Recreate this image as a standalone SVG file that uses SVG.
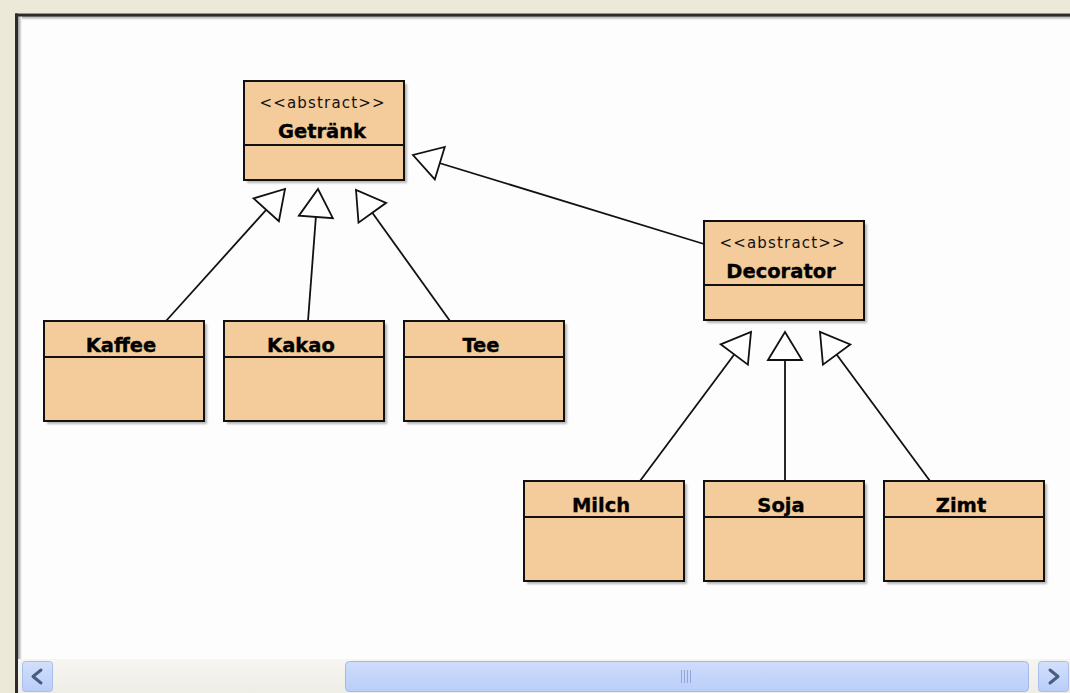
<svg xmlns="http://www.w3.org/2000/svg" width="1070" height="693" viewBox="0 0 1070 693">
  <defs>
    <style>
      .box { fill: #F4CB9A; stroke: #111; stroke-width: 2; }
      .sep { stroke: #111; stroke-width: 1.8; }
      .shadow { fill: #7a7a7a; opacity: 0.55; filter: url(#soft); }
      .stereo { font-family: "DejaVu Sans", sans-serif; font-size: 15px; fill: #111; text-anchor: middle; }
      .name { font-family: "DejaVu Sans", sans-serif; font-weight: bold; font-size: 19.5px; fill: #000; stroke: #000; stroke-width: 0.35; text-anchor: middle; }
      .edge { stroke: #111; stroke-width: 1.8; fill: none; marker-end: url(#gen); }
      .btn { fill: url(#btnGrad); stroke: #A9BDEB; stroke-width: 1; }
      .chev { fill: none; stroke: #4A5C80; stroke-width: 3; stroke-linecap: round; stroke-linejoin: round; }
    </style>
    <filter id="soft" x="-10%" y="-10%" width="130%" height="130%">
      <feGaussianBlur stdDeviation="1.3"/>
    </filter>
    <!-- hollow generalization triangle, tip at the end of the path -->
    <marker id="gen" markerUnits="userSpaceOnUse" viewBox="-2 -2 32 38" markerWidth="32" markerHeight="38" refX="28" refY="17" orient="auto" overflow="visible">
      <polygon points="0,0 28,17 0,34" fill="#fff" stroke="#111" stroke-width="1.8" stroke-linejoin="miter"/>
    </marker>
    <linearGradient id="btnGrad" x1="0" y1="0" x2="0" y2="1">
      <stop offset="0" stop-color="#D3E0FD"/>
      <stop offset="1" stop-color="#B9CDF8"/>
    </linearGradient>
    <linearGradient id="thumbGrad" x1="0" y1="0" x2="0" y2="1">
      <stop offset="0" stop-color="#CFDCFC"/>
      <stop offset="1" stop-color="#BACEF8"/>
    </linearGradient>
    <linearGradient id="trackGrad" x1="0" y1="0" x2="0" y2="1">
      <stop offset="0" stop-color="#F6F5F0"/>
      <stop offset="1" stop-color="#EEEDE6"/>
    </linearGradient>
    <linearGradient id="topEdge" x1="0" y1="0" x2="0" y2="1">
      <stop offset="0" stop-color="#9a9a9a"/>
      <stop offset="1" stop-color="#fdfdfd"/>
    </linearGradient>
    <linearGradient id="leftEdge" x1="0" y1="0" x2="1" y2="0">
      <stop offset="0" stop-color="#9a9a9a"/>
      <stop offset="1" stop-color="#fdfdfd"/>
    </linearGradient>
  </defs>

  <!-- window frame and canvas -->
  <rect x="0" y="0" width="1070" height="693" fill="#ECE9D8"/>
  <rect x="15" y="13" width="1055" height="680" fill="#FDFDFD"/>
  <rect x="18" y="16" width="1052" height="4" fill="url(#topEdge)"/>
  <rect x="18" y="16" width="4" height="644" fill="url(#leftEdge)"/>
  <rect x="15" y="13.5" width="1055" height="3" fill="#2b2b2b"/>
  <rect x="15" y="13.5" width="3" height="680" fill="#2b2b2b"/>

  <!-- connectors -->
  <g id="connectors">
    <line class="edge" x1="166" y1="321" x2="285" y2="189"/>
    <line class="edge" x1="308" y1="321" x2="318" y2="189"/>
    <line class="edge" x1="450" y1="321" x2="356" y2="190"/>
    <line class="edge" x1="704" y1="244" x2="413" y2="155"/>
    <line class="edge" x1="640" y1="481" x2="751" y2="332"/>
    <line class="edge" x1="785" y1="481" x2="785" y2="332"/>
    <line class="edge" x1="930" y1="481" x2="820" y2="332"/>
  </g>

  <!-- classes -->
  <g id="getraenk">
    <rect class="shadow" x="247" y="84" width="160" height="99"/>
    <rect class="box" x="244" y="81" width="160" height="99"/>
    <line class="sep" x1="244" y1="145" x2="404" y2="145"/>
    <text class="stereo" x="322" y="108" textLength="125" lengthAdjust="spacing">&lt;&lt;abstract&gt;&gt;</text>
    <text class="name" x="322" y="138">Getränk</text>
  </g>

  <g id="decorator">
    <rect class="shadow" x="707" y="224" width="160" height="99"/>
    <rect class="box" x="704" y="221" width="160" height="99"/>
    <line class="sep" x1="704" y1="285" x2="864" y2="285"/>
    <text class="stereo" x="782" y="248" textLength="125" lengthAdjust="spacing">&lt;&lt;abstract&gt;&gt;</text>
    <text class="name" x="781" y="278">Decorator</text>
  </g>

  <g id="kaffee">
    <rect class="shadow" x="47" y="324" width="160" height="100"/>
    <rect class="box" x="44" y="321" width="160" height="100"/>
    <line class="sep" x1="44" y1="357" x2="204" y2="357"/>
    <text class="name" x="121" y="352">Kaffee</text>
  </g>

  <g id="kakao">
    <rect class="shadow" x="227" y="324" width="160" height="100"/>
    <rect class="box" x="224" y="321" width="160" height="100"/>
    <line class="sep" x1="224" y1="357" x2="384" y2="357"/>
    <text class="name" x="301" y="352">Kakao</text>
  </g>

  <g id="tee">
    <rect class="shadow" x="407" y="324" width="160" height="100"/>
    <rect class="box" x="404" y="321" width="160" height="100"/>
    <line class="sep" x1="404" y1="357" x2="564" y2="357"/>
    <text class="name" x="481" y="352">Tee</text>
  </g>

  <g id="milch">
    <rect class="shadow" x="527" y="484" width="160" height="100"/>
    <rect class="box" x="524" y="481" width="160" height="100"/>
    <line class="sep" x1="524" y1="517" x2="684" y2="517"/>
    <text class="name" x="601" y="512">Milch</text>
  </g>

  <g id="soja">
    <rect class="shadow" x="707" y="484" width="160" height="100"/>
    <rect class="box" x="704" y="481" width="160" height="100"/>
    <line class="sep" x1="704" y1="517" x2="864" y2="517"/>
    <text class="name" x="781" y="512">Soja</text>
  </g>

  <g id="zimt">
    <rect class="shadow" x="887" y="484" width="160" height="100"/>
    <rect class="box" x="884" y="481" width="160" height="100"/>
    <line class="sep" x1="884" y1="517" x2="1044" y2="517"/>
    <text class="name" x="961" y="512">Zimt</text>
  </g>

  <!-- horizontal scrollbar -->
  <g id="scrollbar">
    <rect x="18" y="659" width="1052" height="34" fill="url(#trackGrad)"/>
    <rect class="btn" x="22.5" y="661.5" width="30" height="30" rx="3"/>
    <polyline class="chev" points="41,670 33,676.5 41,683"/>
    <rect x="345.5" y="661.5" width="683" height="30" rx="4" fill="url(#thumbGrad)" stroke="#A3B8EA" stroke-width="1"/>
    <g stroke="#8FA6DA" stroke-width="1">
      <line x1="681.5" y1="670" x2="681.5" y2="683"/>
      <line x1="684.5" y1="670" x2="684.5" y2="683"/>
      <line x1="687.5" y1="670" x2="687.5" y2="683"/>
      <line x1="690.5" y1="670" x2="690.5" y2="683"/>
    </g>
    <rect class="btn" x="1038.5" y="661.5" width="30" height="30" rx="3"/>
    <polyline class="chev" points="1050,670 1058,676.5 1050,683"/>
  </g>
</svg>
